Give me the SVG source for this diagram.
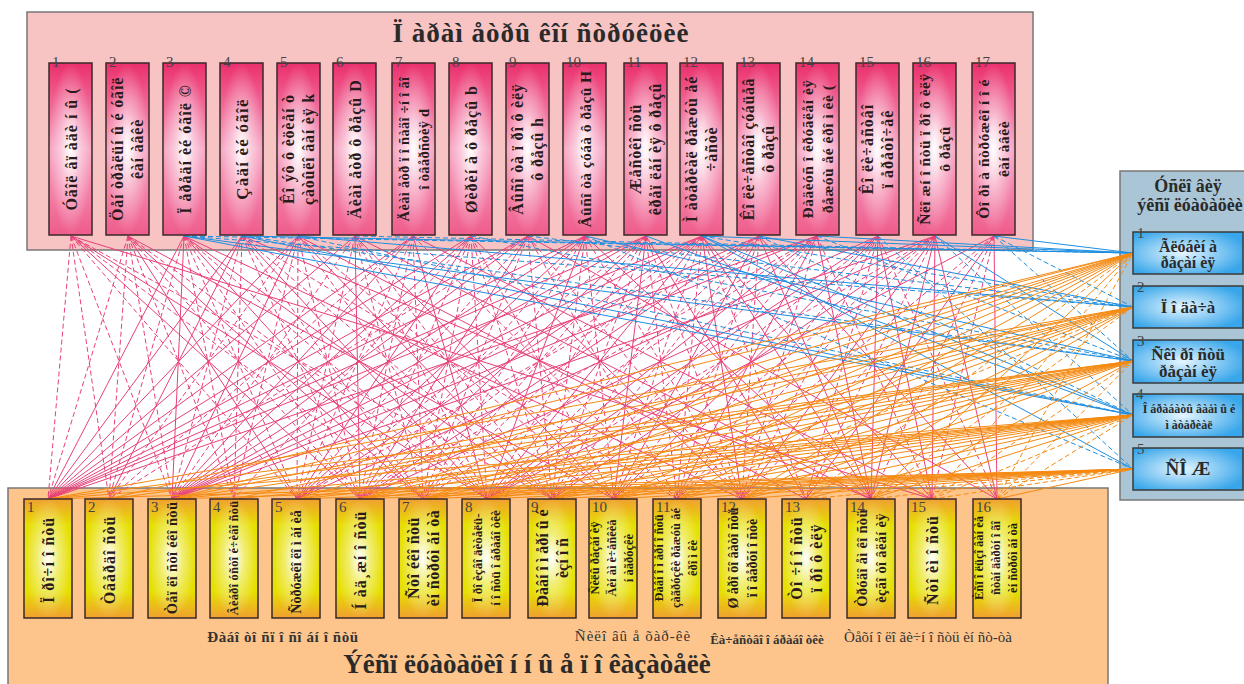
<svg xmlns="http://www.w3.org/2000/svg" width="1244" height="684" viewBox="0 0 1244 684">
<defs>
<linearGradient id="gPink" x1="0" y1="0" x2="0" y2="1"><stop offset="0" stop-color="#ea2f6c"/><stop offset="0.5" stop-color="#f7a4c2"/><stop offset="1" stop-color="#ef5c8c"/></linearGradient>
<linearGradient id="gYel" x1="0" y1="0" x2="0" y2="1"><stop offset="0" stop-color="#f0a030"/><stop offset="0.22" stop-color="#e6df00"/><stop offset="0.78" stop-color="#e6df00"/><stop offset="1" stop-color="#f0a030"/></linearGradient>
<radialGradient id="gBlue" cx="0.45" cy="0.5" r="0.6"><stop offset="0" stop-color="#e6f6ff"/><stop offset="1" stop-color="#38a6ea"/></radialGradient>
<radialGradient id="glow" cx="0.5" cy="0.5" r="0.5"><stop offset="0" stop-color="#fff" stop-opacity="1"/><stop offset="0.45" stop-color="#fff" stop-opacity="0.45"/><stop offset="1" stop-color="#fff" stop-opacity="0"/></radialGradient>
</defs>
<style>
.panel{stroke:#777;stroke-width:1.5}
.tb{fill:url(#gPink);stroke:#3a2a2a;stroke-width:1.5}
.bb{fill:url(#gYel);stroke:#3a2a2a;stroke-width:1.5}
.rb{fill:url(#gBlue);stroke:#3a3a3a;stroke-width:1.5}
.gl{fill:url(#glow);stroke:none}
.num{font-family:"Liberation Serif",serif;font-size:15px;fill:#444}
.tt{font-family:"Liberation Serif",serif;font-weight:bold;fill:#2a1a1a;text-anchor:middle}
.ttl{font-family:"Liberation Serif",serif;font-weight:bold;fill:#2a2a2a;text-anchor:middle}
.lab{font-family:"Liberation Serif",serif;fill:#333;text-anchor:middle}
.c{fill:none;stroke-width:1}
.pk{stroke:#e8407a}
.bl{stroke:#1e8ee0}
.or{stroke:#f58a12}
.d{stroke-dasharray:5 3}
</style>

<g id="panel-top">
<rect class="panel" x="27" y="12" width="1006" height="238" fill="#f7c3c3"/>
<text class="ttl" x="541" y="42" font-size="27" letter-spacing="1">Ï àðàì åòðû  êîí ñòðóêöèè</text>
</g>
<g id="panel-bottom">
<rect class="panel" x="8" y="488" width="1100" height="200" fill="#fdc58c"/>
<text class="ttl" x="527" y="673" font-size="27">Ýêñï ëóàòàöèî í í û å ï î êàçàòåëè</text>
<text class="lab" x="283" y="642" font-weight="bold" font-size="15" letter-spacing="0.6">Ðàáî òî ñï î ñî áí î ñòü</text>
<text class="lab" x="633" y="641" font-size="15" letter-spacing="1">Ñèëî âû å õàð-êè</text>
<text class="lab" x="767" y="644" font-weight="bold" font-size="13">Êà÷åñòâî î áðàáî òêè</text>
<text class="lab" x="928" y="642" font-size="15">Òåõí î ëî ãè÷í î ñòü èí ñò-òà</text>
</g>
<g id="panel-right">
<rect class="panel" x="1120" y="171" width="140" height="329" fill="#a9c5d6"/>
<text class="ttl" x="1188" y="192" font-size="18">Óñëî âèÿ</text>
<text class="ttl" x="1190" y="211" font-size="18">ýêñï ëóàòàöèè</text>
</g>

<g id="connectors">
<path class="c pk" d="M71 236L360 499M71 236L487 499M71 236L932 499M128 236L297 499M128 236L423 499M128 236L614 499M184 236L48 499M184 236L172 499M184 236L423 499M184 236L552 499M184 236L742 499M242 236L48 499M242 236L109 499M242 236L487 499M242 236L871 499M298 236L48 499M298 236L172 499M298 236L552 499M298 236L806 499M355 236L48 499M355 236L360 499M355 236L614 499M355 236L871 499M413 236L48 499M413 236L172 499M413 236L487 499M413 236L932 499M471 236L48 499M471 236L172 499M471 236L297 499M471 236L742 499M528 236L48 499M528 236L172 499M528 236L360 499M528 236L997 499M585 236L48 499M585 236L172 499M585 236L297 499M585 236L487 499M585 236L871 499M646 236L48 499M646 236L172 499M646 236L360 499M646 236L614 499M646 236L806 499M702 236L48 499M702 236L172 499M702 236L297 499M702 236L487 499M702 236L742 499M702 236L871 499M702 236L932 499M759 236L172 499M759 236L360 499M759 236L614 499M759 236L871 499M759 236L997 499M817 236L48 499M817 236L172 499M817 236L487 499M817 236L677 499M817 236L871 499M878 236L297 499M878 236L487 499M878 236L614 499M878 236L871 499M878 236L932 499M935 236L172 499M935 236L360 499M935 236L552 499M935 236L742 499M935 236L871 499M935 236L932 499M935 236L997 499M994 236L487 499M994 236L806 499M994 236L997 499"/>
<path class="c pk d" d="M71 236L48 499M71 236L109 499M71 236L172 499M71 236L297 499M71 236L423 499M71 236L552 499M128 236L48 499M128 236L109 499M128 236L172 499M128 236L234 499M128 236L360 499M128 236L487 499M184 236L109 499M184 236L234 499M184 236L297 499M184 236L360 499M184 236L487 499M242 236L172 499M242 236L234 499M242 236L360 499M242 236L423 499M242 236L552 499M242 236L677 499M298 236L109 499M298 236L234 499M298 236L297 499M298 236L360 499M298 236L487 499M298 236L614 499M355 236L172 499M355 236L297 499M355 236L423 499M355 236L487 499M355 236L552 499M413 236L109 499M413 236L297 499M413 236L360 499M413 236L423 499M413 236L677 499M471 236L234 499M471 236L360 499M471 236L423 499M471 236L487 499M471 236L552 499M471 236L614 499M528 236L109 499M528 236L297 499M528 236L423 499M528 236L552 499M528 236L677 499M528 236L742 499M585 236L360 499M585 236L423 499M585 236L552 499M585 236L614 499M585 236L742 499M646 236L297 499M646 236L423 499M646 236L487 499M646 236L552 499M646 236L677 499M646 236L742 499M702 236L360 499M702 236L423 499M702 236L552 499M702 236L614 499M702 236L677 499M702 236L806 499M759 236L297 499M759 236L487 499M759 236L552 499M759 236L677 499M759 236L742 499M817 236L360 499M817 236L423 499M817 236L552 499M817 236L614 499M817 236L742 499M817 236L932 499M878 236L552 499M878 236L677 499M878 236L742 499M878 236L806 499M878 236L997 499M935 236L487 499M935 236L614 499M935 236L677 499M935 236L806 499M994 236L677 499M994 236L742 499M994 236L871 499M994 236L932 499"/>
<path class="c bl" d="M184 236L1133 415M184 236L1133 361M242 236L1133 253M242 236L1133 415M298 236L1133 307M585 236L1133 361M646 236L1133 415M702 236L1133 253M702 236L1133 415M702 236L1133 469M759 236L1133 307M817 236L1133 253M935 236L1133 361M994 236L1133 253"/>
<path class="c bl d" d="M184 236L1133 253M184 236L1133 307M242 236L1133 361M298 236L1133 415M355 236L1133 253M471 236L1133 361M528 236L1133 307M585 236L1133 469M702 236L1133 307M759 236L1133 415M817 236L1133 361M878 236L1133 469M935 236L1133 415M994 236L1133 307M994 236L1133 361"/>
<path class="c or" d="M109 499L1133 253M172 499L1133 253M296 499L1133 253M360 499L1133 253M423 499L1133 253M486 499L1133 253M552 499L1133 253M613 499L1133 253M677 499L1133 253M742 499L1133 253M871 499L1133 253M48 499L1133 307M172 499L1133 307M234 499L1133 307M360 499L1133 307M423 499L1133 307M486 499L1133 307M552 499L1133 307M613 499L1133 307M742 499L1133 307M806 499L1133 307M48 499L1133 361M109 499L1133 361M172 499L1133 361M296 499L1133 361M360 499L1133 361M423 499L1133 361M486 499L1133 361M552 499L1133 361M613 499L1133 361M677 499L1133 361M742 499L1133 361M871 499L1133 361M48 499L1133 415M172 499L1133 415M234 499L1133 415M296 499L1133 415M360 499L1133 415M423 499L1133 415M486 499L1133 415M552 499L1133 415M613 499L1133 415M677 499L1133 415M742 499L1133 415M806 499L1133 415M871 499L1133 415M48 499L1133 469M172 499L1133 469M296 499L1133 469M360 499L1133 469M423 499L1133 469M486 499L1133 469M552 499L1133 469M613 499L1133 469M677 499L1133 469M742 499L1133 469M997 499L1133 469"/>
<path class="c or d" d="M806 499L1133 253M932 499L1133 253M997 499L1133 253M677 499L1133 307M871 499L1133 307M932 499L1133 361M997 499L1133 361M932 499L1133 415M997 499L1133 415M806 499L1133 469M871 499L1133 469M932 499L1133 469"/>
</g>

<g id="t1"><rect class="tb" x="49" y="63" width="43" height="172"/><rect class="gl" x="49" y="63" width="43" height="172"/><text class="num" x="52" y="67">1</text><text class="tt" font-size="16" letter-spacing="1" transform="translate(70.5 149) rotate(-90)"><tspan x="0" y="6">Óãîë âï àäè í û (</tspan></text></g>
<g id="t2"><rect class="tb" x="106" y="63" width="43" height="172"/><rect class="gl" x="106" y="63" width="43" height="172"/><text class="num" x="109" y="67">2</text><text class="tt" font-size="16" letter-spacing="0.8" transform="translate(127.5 149) rotate(-90)"><tspan x="0" y="-5">Öåí òðàëüí û é óãîë</tspan><tspan x="0" y="15">êàí àâêè</tspan></text></g>
<g id="t3"><rect class="tb" x="163" y="63" width="43" height="172"/><rect class="gl" x="163" y="63" width="43" height="172"/><text class="num" x="166" y="67">3</text><text class="tt" font-size="16" letter-spacing="1" transform="translate(184.5 149) rotate(-90)"><tspan x="0" y="6">Ï åðåäí èé  óãîë  ©</tspan></text></g>
<g id="t4"><rect class="tb" x="220" y="63" width="43" height="172"/><rect class="gl" x="220" y="63" width="43" height="172"/><text class="num" x="223" y="67">4</text><text class="tt" font-size="17" letter-spacing="1.2" transform="translate(241.5 149) rotate(-90)"><tspan x="0" y="6">Çàäí èé  óãîë</tspan></text></g>
<g id="t5"><rect class="tb" x="277" y="63" width="43" height="172"/><rect class="gl" x="277" y="63" width="43" height="172"/><text class="num" x="280" y="67">5</text><text class="tt" font-size="16" letter-spacing="0.8" transform="translate(298.5 149) rotate(-90)"><tspan x="0" y="-5">Êî ýô ô èöèåí ò</tspan><tspan x="0" y="15">çàòûëî âàí èÿ  k</tspan></text></g>
<g id="t6"><rect class="tb" x="333" y="63" width="43" height="172"/><rect class="gl" x="333" y="63" width="43" height="172"/><text class="num" x="336" y="67">6</text><text class="tt" font-size="16" letter-spacing="1" transform="translate(354.5 149) rotate(-90)"><tspan x="0" y="6">Äèàì åòð ô ðåçû  D</tspan></text></g>
<g id="t7"><rect class="tb" x="392" y="63" width="43" height="172"/><rect class="gl" x="392" y="63" width="43" height="172"/><text class="num" x="395" y="67">7</text><text class="tt" font-size="14.5" letter-spacing="0.3" transform="translate(413.5 149) rotate(-90)"><tspan x="0" y="-5">Äèàì åòð ï î ñàäî ÷í î ãî</tspan><tspan x="0" y="15">î òâåðñòèÿ  d</tspan></text></g>
<g id="t8"><rect class="tb" x="449" y="63" width="43" height="172"/><rect class="gl" x="449" y="63" width="43" height="172"/><text class="num" x="452" y="67">8</text><text class="tt" font-size="16" letter-spacing="1" transform="translate(470.5 149) rotate(-90)"><tspan x="0" y="6">Øèðèí à ô ðåçû  b</tspan></text></g>
<g id="t9"><rect class="tb" x="506" y="63" width="43" height="172"/><rect class="gl" x="506" y="63" width="43" height="172"/><text class="num" x="509" y="67">9</text><text class="tt" font-size="16" letter-spacing="0.8" transform="translate(527.5 149) rotate(-90)"><tspan x="0" y="-5">Âûñî òà ï ðî ô èëÿ</tspan><tspan x="0" y="15">ô ðåçû  h</tspan></text></g>
<g id="t10"><rect class="tb" x="563" y="63" width="43" height="172"/><rect class="gl" x="563" y="63" width="43" height="172"/><text class="num" x="566" y="67">10</text><text class="tt" font-size="15.5" letter-spacing="0.4" transform="translate(584.5 149) rotate(-90)"><tspan x="0" y="6">Âûñî òà çóáà ô ðåçû  H</tspan></text></g>
<g id="t11"><rect class="tb" x="624" y="63" width="43" height="172"/><rect class="gl" x="624" y="63" width="43" height="172"/><text class="num" x="627" y="67">11</text><text class="tt" font-size="16" letter-spacing="0.8" transform="translate(645.5 149) rotate(-90)"><tspan x="0" y="-5">Æåñòêî ñòü</tspan><tspan x="0" y="15">êðåï ëåí èÿ ô ðåçû</tspan></text></g>
<g id="t12"><rect class="tb" x="680" y="63" width="43" height="172"/><rect class="gl" x="680" y="63" width="43" height="172"/><text class="num" x="683" y="67">12</text><text class="tt" font-size="16" letter-spacing="0.8" transform="translate(701.5 149) rotate(-90)"><tspan x="0" y="-5">Ì àòåðèàë ðåæóù åé</tspan><tspan x="0" y="15">÷àñòè</tspan></text></g>
<g id="t13"><rect class="tb" x="737" y="63" width="43" height="172"/><rect class="gl" x="737" y="63" width="43" height="172"/><text class="num" x="740" y="67">13</text><text class="tt" font-size="16" letter-spacing="0.6" transform="translate(758.5 149) rotate(-90)"><tspan x="0" y="-5">Êî ëè÷åñòâî  çóáüåâ</tspan><tspan x="0" y="15">ô ðåçû</tspan></text></g>
<g id="t14"><rect class="tb" x="796" y="63" width="43" height="172"/><rect class="gl" x="796" y="63" width="43" height="172"/><text class="num" x="799" y="67">14</text><text class="tt" font-size="15.5" letter-spacing="0.5" transform="translate(817.5 149) rotate(-90)"><tspan x="0" y="-5">Ðàäèóñ î êðóãëåí èÿ</tspan><tspan x="0" y="15">ðåæóù åé  êðî ì êè  (</tspan></text></g>
<g id="t15"><rect class="tb" x="856" y="63" width="43" height="172"/><rect class="gl" x="856" y="63" width="43" height="172"/><text class="num" x="859" y="67">15</text><text class="tt" font-size="16" letter-spacing="1" transform="translate(877.5 149) rotate(-90)"><tspan x="0" y="-5">Êî ëè÷åñòâî</tspan><tspan x="0" y="15">ï åðåòî÷åê</tspan></text></g>
<g id="t16"><rect class="tb" x="913" y="63" width="43" height="172"/><rect class="gl" x="913" y="63" width="43" height="172"/><text class="num" x="916" y="67">16</text><text class="tt" font-size="15.5" letter-spacing="0.5" transform="translate(934.5 149) rotate(-90)"><tspan x="0" y="-5">Ñëî æí î ñòü ï ðî ô èëÿ</tspan><tspan x="0" y="15">ô ðåçû</tspan></text></g>
<g id="t17"><rect class="tb" x="972" y="63" width="43" height="172"/><rect class="gl" x="972" y="63" width="43" height="172"/><text class="num" x="975" y="67">17</text><text class="tt" font-size="15.5" letter-spacing="0.5" transform="translate(993.5 149) rotate(-90)"><tspan x="0" y="-5">Ôî ðì à ñòðóæêî í î é</tspan><tspan x="0" y="15">êàí àâêè</tspan></text></g>

<g id="b1"><rect class="bb" x="24" y="499" width="48" height="119"/><rect class="gl" x="24" y="499" width="48" height="119"/><text class="num" x="27" y="512">1</text><text class="tt" font-size="16" letter-spacing="1" transform="translate(48 560) rotate(-90)"><tspan x="0" y="6">Ï ðî÷í î ñòü</tspan></text></g>
<g id="b2"><rect class="bb" x="85" y="499" width="48" height="119"/><rect class="gl" x="85" y="499" width="48" height="119"/><text class="num" x="88" y="512">2</text><text class="tt" font-size="16" letter-spacing="1" transform="translate(109 560) rotate(-90)"><tspan x="0" y="6">Òâåðäî ñòü</tspan></text></g>
<g id="b3"><rect class="bb" x="148" y="499" width="48" height="119"/><rect class="gl" x="148" y="499" width="48" height="119"/><text class="num" x="151" y="512">3</text><text class="tt" font-size="14.5" letter-spacing="0.3" transform="translate(172 558) rotate(-90)"><tspan x="0" y="5">Òåï ëî ñòî éêî ñòü</tspan></text></g>
<g id="b4"><rect class="bb" x="210" y="499" width="48" height="119"/><rect class="gl" x="210" y="499" width="48" height="119"/><text class="num" x="213" y="512">4</text><text class="tt" font-size="12.5" letter-spacing="0.2" transform="translate(234 558) rotate(-90)"><tspan x="0" y="4">Âèáðî óñòî é÷èâî ñòü</tspan></text></g>
<g id="b5"><rect class="bb" x="272" y="499" width="48" height="119"/><rect class="gl" x="272" y="499" width="48" height="119"/><text class="num" x="275" y="512">5</text><text class="tt" font-size="14" transform="translate(296 562) rotate(-90)"><tspan x="0" y="5">Ñòðóæêî ëî ì àí èå</tspan></text></g>
<g id="b6"><rect class="bb" x="336" y="499" width="48" height="119"/><rect class="gl" x="336" y="499" width="48" height="119"/><text class="num" x="339" y="512">6</text><text class="tt" font-size="16" letter-spacing="1" transform="translate(360 560) rotate(-90)"><tspan x="0" y="6">Í àä¸æí î ñòü</tspan></text></g>
<g id="b7"><rect class="bb" x="399" y="499" width="48" height="119"/><rect class="gl" x="399" y="499" width="48" height="119"/><text class="num" x="402" y="512">7</text><text class="tt" font-size="16" letter-spacing="0.5" transform="translate(423 558) rotate(-90)"><tspan x="0" y="-4">Ñòî éêî ñòü</tspan><tspan x="0" y="16">èí ñòðóì åí òà</tspan></text></g>
<g id="b8"><rect class="bb" x="462" y="499" width="48" height="119"/><rect class="gl" x="462" y="499" width="48" height="119"/><text class="num" x="465" y="512">8</text><text class="tt" font-size="13" transform="translate(486 558) rotate(-90)"><tspan x="0" y="-4">Ï ðî èçâî äèòåëü-</tspan><tspan x="0" y="14">í î ñòü î áðàáî òêè</tspan></text></g>
<g id="b9"><rect class="bb" x="528" y="499" width="48" height="119"/><rect class="gl" x="528" y="499" width="48" height="119"/><text class="num" x="531" y="512">9</text><text class="tt" font-size="16" transform="translate(552 558) rotate(-90)"><tspan x="0" y="-4">Ðàâí î ì åðí û é</tspan><tspan x="0" y="16">èçí î ñ</tspan></text></g>
<g id="b10"><rect class="bb" x="589" y="499" width="48" height="119"/><rect class="gl" x="589" y="499" width="48" height="119"/><text class="num" x="592" y="512">10</text><text class="tt" font-size="12.5" transform="translate(613 558) rotate(-90)"><tspan x="0" y="-14">Ñèëû  ðåçàí èÿ</tspan><tspan x="0" y="3">Äèí àì è÷åñêèå</tspan><tspan x="0" y="20">í àãðóçêè</tspan></text></g>
<g id="b11"><rect class="bb" x="653" y="499" width="48" height="119"/><rect class="gl" x="653" y="499" width="48" height="119"/><text class="num" x="656" y="512">11</text><text class="tt" font-size="12.5" transform="translate(677 558) rotate(-90)"><tspan x="0" y="-14">Ðàâí î ì åðí î ñòü</tspan><tspan x="0" y="3">çàãðóçêè ðåæóù åé</tspan><tspan x="0" y="20">êðî ì êè</tspan></text></g>
<g id="b12"><rect class="bb" x="718" y="499" width="48" height="119"/><rect class="gl" x="718" y="499" width="48" height="119"/><text class="num" x="721" y="512">12</text><text class="tt" font-size="14" transform="translate(742 558) rotate(-90)"><tspan x="0" y="-4">Ø åðî õî âàòî ñòü</tspan><tspan x="0" y="15">ï î âåðõí î ñòè</tspan></text></g>
<g id="b13"><rect class="bb" x="782" y="499" width="48" height="119"/><rect class="gl" x="782" y="499" width="48" height="119"/><text class="num" x="785" y="512">13</text><text class="tt" font-size="16" letter-spacing="1" transform="translate(806 558) rotate(-90)"><tspan x="0" y="-4">Òî ÷í î ñòü</tspan><tspan x="0" y="16">ï ðî ô èëÿ</tspan></text></g>
<g id="b14"><rect class="bb" x="847" y="499" width="48" height="119"/><rect class="gl" x="847" y="499" width="48" height="119"/><text class="num" x="850" y="512">14</text><text class="tt" font-size="14.5" letter-spacing="0.3" transform="translate(871 558) rotate(-90)"><tspan x="0" y="-4">Òðóäî åì êî ñòü</tspan><tspan x="0" y="15">èçãî òî âëåí èÿ</tspan></text></g>
<g id="b15"><rect class="bb" x="908" y="499" width="48" height="119"/><rect class="gl" x="908" y="499" width="48" height="119"/><text class="num" x="911" y="512">15</text><text class="tt" font-size="16" letter-spacing="1" transform="translate(932 560) rotate(-90)"><tspan x="0" y="6">Ñòî èì î ñòü</tspan></text></g>
<g id="b16"><rect class="bb" x="973" y="499" width="48" height="119"/><rect class="gl" x="973" y="499" width="48" height="119"/><text class="num" x="976" y="512">16</text><text class="tt" font-size="12.5" transform="translate(997 558) rotate(-90)"><tspan x="0" y="-14">Èñï î ëüçî âàí èå</tspan><tspan x="0" y="3">ñòàí äàðòí î ãî</tspan><tspan x="0" y="20">èí ñòðóì åí òà</tspan></text></g>

<g id="r1"><rect class="rb" x="1133" y="232" width="110" height="42"/><text class="num" x="1137" y="238">1</text><text class="ttl" font-size="16" x="1188" y="252">Ãëóáèí à</text><text class="ttl" font-size="16" x="1188" y="268">ðåçàí èÿ</text></g>
<g id="r2"><rect class="rb" x="1133" y="286" width="110" height="42"/><text class="num" x="1137" y="292">2</text><text class="ttl" font-size="17" x="1188" y="313">Ï î äà÷à</text></g>
<g id="r3"><rect class="rb" x="1133" y="340" width="110" height="43"/><text class="num" x="1137" y="346">3</text><text class="ttl" font-size="17" x="1188" y="360">Ñêî ðî ñòü</text><text class="ttl" font-size="17" x="1188" y="377">ðåçàí èÿ</text></g>
<g id="r4"><rect class="rb" x="1133" y="394" width="110" height="43"/><text class="num" x="1136" y="399">4</text><text class="ttl" font-size="12" x="1189" y="413">Î áðàáàòû âàåì û é</text><text class="ttl" font-size="12" x="1189" y="429">ì àòåðèàë</text></g>
<g id="r5"><rect class="rb" x="1133" y="448" width="110" height="42"/><text class="num" x="1137" y="454">5</text><text class="ttl" font-size="19" x="1188" y="475">ÑÎ Æ</text></g>
</svg>
